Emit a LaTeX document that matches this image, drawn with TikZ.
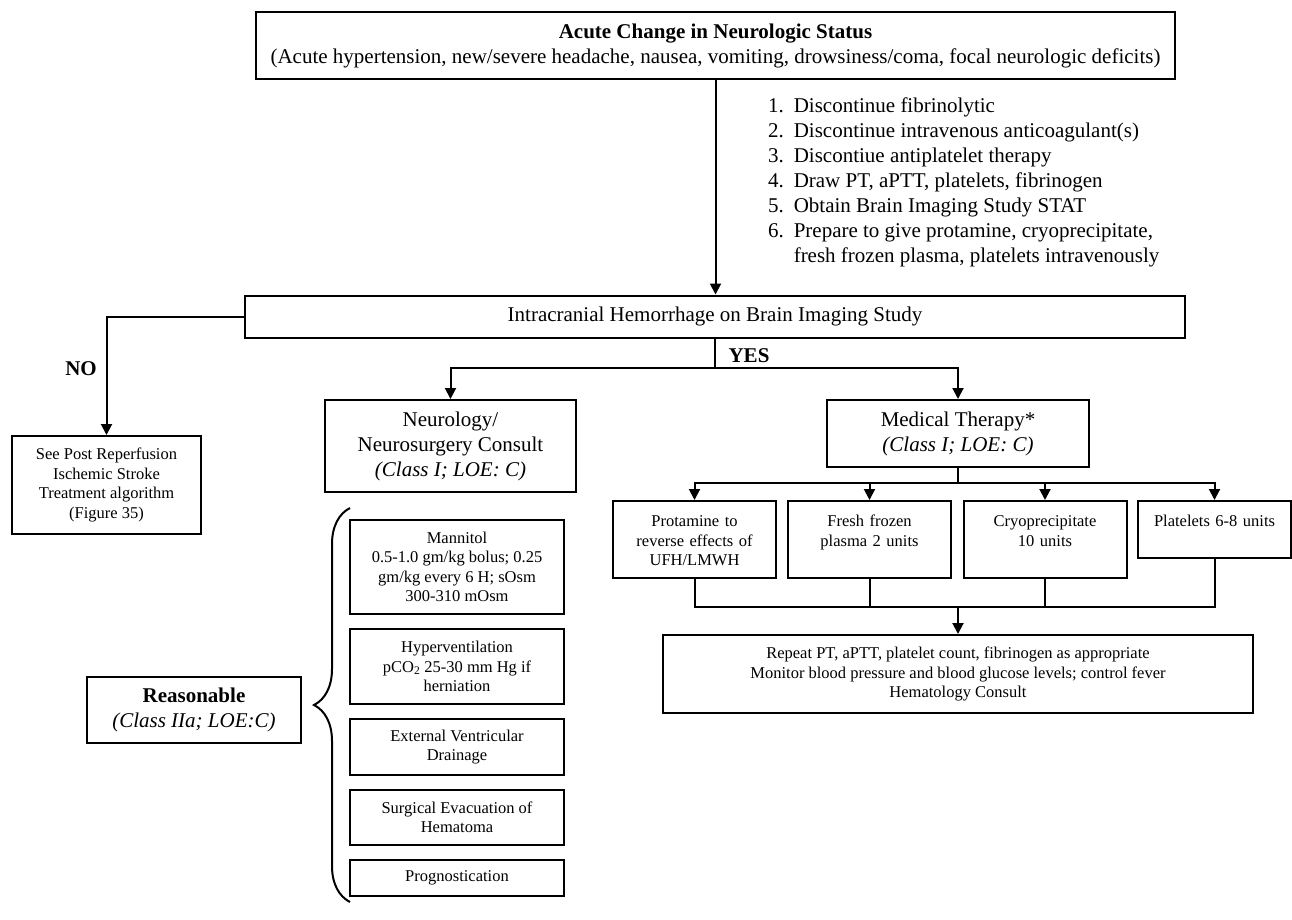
\documentclass[tikz,border=0pt]{standalone}
\usepackage{fontspec}
\setmainfont{Liberation Serif}
\usetikzlibrary{arrows.meta,decorations.pathreplacing}

\begin{document}
\begin{tikzpicture}[x=1pt, y=-1pt, line width=2pt, >={Triangle[length=11pt,width=11pt]},
  box/.style={draw, align=center, inner sep=0pt, font=\fontsize{21}{25}\selectfont},
  smallbox/.style={draw, align=center, inner sep=0pt, font=\fontsize{16.5}{19.5}\selectfont},
  drug/.style={draw, anchor=north, text width=150pt, align=center, inner xsep=6.5pt, inner ysep=13.5pt, text height=12pt, font=\fontsize{16.5}{19.5}\selectfont},
  answer/.style={font=\bfseries\fontsize{21}{25}\selectfont}]
\useasboundingbox (0,0) rectangle (1292,920);

\node[box, minimum width=919pt, minimum height=67pt] (acute) at (715.5,45.5) {\textbf{Acute Change in Neurologic Status}\\(Acute hypertension, new/severe headache, nausea, vomiting, drowsiness/coma, focal neurologic deficits)};
\node[anchor=base west, inner sep=0pt, font=\fontsize{21}{25}\selectfont] (steps) at (767,113) {\begin{tabular}[t]{@{}l@{\hspace{10pt}}l@{}}
1. & Discontinue fibrinolytic\\
2. & Discontinue intravenous anticoagulant(s)\\
3. & Discontiue antiplatelet therapy\\
4. & Draw PT, aPTT, platelets, fibrinogen\\
5. & Obtain Brain Imaging Study STAT\\
6. & Prepare to give protamine, cryoprecipitate,\\
   & fresh frozen plasma, platelets intravenously
\end{tabular}};
\node[box, minimum width=940pt, minimum height=42pt] (ich) at (715,316.5) {Intracranial Hemorrhage on Brain Imaging Study};

\node[answer] (no) at (81,369) {NO};
\node[answer] (yes) at (749,356) {YES};
\node[smallbox, minimum width=189pt, minimum height=98pt] (seepost) at (106.5,485) {See Post Reperfusion\\Ischemic Stroke\\Treatment algorithm\\(Figure 35)};

\node[box, minimum width=251pt, minimum height=92pt] (neuro) at (450.5,446) {Neurology/\\Neurosurgery Consult\\\textit{(Class I; LOE: C)}};
\node[box, minimum width=262pt, minimum height=67pt] (medical) at (958,433.5) {Medical Therapy*\\\textit{(Class I; LOE: C)}};

\node[drug, text depth=38pt] (protamine) at (694.5,500) {Protamine to\\reverse effects of\\UFH/LMWH};
\node[drug, text depth=38pt] (ffp) at (869.5,500) {Fresh frozen\\plasma 2 units};
\node[drug, text depth=38pt] (cryo) at (1045,500) {Cryoprecipitate\\10 units};
\node[drug, text depth=18pt, text width=140pt] (platelets) at (1214.5,500) {Platelets 6-8 units};
\node[smallbox, minimum width=590pt, minimum height=78pt] (followup) at (958,674) {Repeat PT, aPTT, platelet count, fibrinogen as appropriate\\Monitor blood pressure and blood glucose levels; control fever\\Hematology Consult};

\node[box, minimum width=214pt, minimum height=66pt] (reasonable) at (194,710) {\textbf{Reasonable}\\\textit{(Class IIa; LOE:C)}};
\node[smallbox, minimum width=214pt, minimum height=94pt] (mannitol) at (457,567) {Mannitol\\0.5-1.0 gm/kg bolus; 0.25\\gm/kg every 6 H; sOsm\\300-310 mOsm};
\node[smallbox, minimum width=214pt, minimum height=75pt] (hyperv) at (457,666.5) {Hyperventilation\\pCO\textsubscript{2} 25-30 mm Hg if\\herniation};
\node[smallbox, minimum width=214pt, minimum height=56pt] (evd) at (457,747) {External Ventricular\\Drainage};
\node[smallbox, minimum width=214pt, minimum height=55pt] (surgery) at (457,817.5) {Surgical Evacuation of\\Hematoma};
\node[smallbox, minimum width=214pt, minimum height=36pt] (prognosis) at (457,878) {Prognostication};

\coordinate (bracetop) at (350,508);
\coordinate (bracebot) at (350,902);
\draw[decorate, decoration={brace, amplitude=36pt}] (bracebot) -- (bracetop);

\draw[->] (acute.south) -- (acute.south |- ich.north);
\draw[->] (ich.west) -| (seepost.north);
\coordinate (yesfork) at (715,368);
\draw (ich.south) -- (yesfork);
\draw[->] (yesfork) -| (neuro.north);
\draw[->] (yesfork) -| (medical.north);
\coordinate (medfork) at (958,483);
\draw (medical.south) -- (medfork);
\draw[->] (medfork) -| (protamine.north);
\draw[->] (medfork) -| (ffp.north);
\draw[->] (medfork) -| (cryo.north);
\draw[->] (medfork) -| (platelets.north);
\coordinate (merge) at (958,607);
\draw (protamine.south) |- (merge);
\draw (ffp.south) |- (merge);
\draw (cryo.south) |- (merge);
\draw (platelets.south) |- (merge);
\draw[->] (merge) -- (followup.north);
\end{tikzpicture}
\end{document}
